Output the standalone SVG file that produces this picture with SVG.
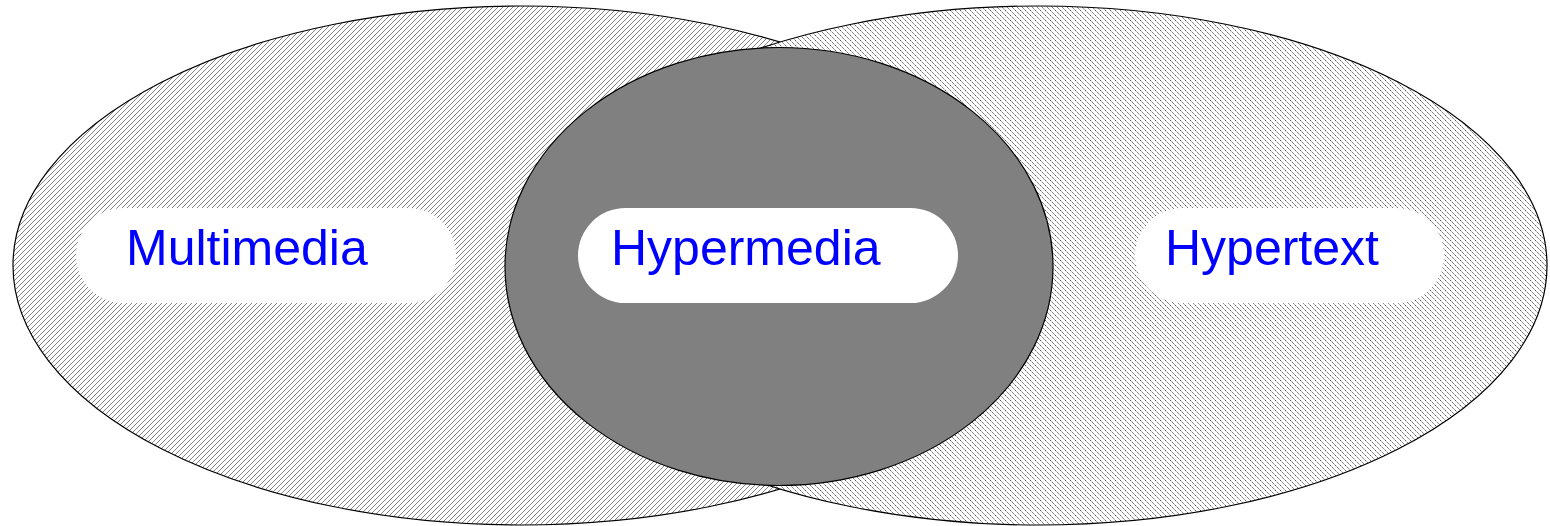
<svg xmlns="http://www.w3.org/2000/svg" width="1550" height="526" viewBox="0 0 1550 526">
<style>
.lbl{font-family:"Liberation Sans",Arial,sans-serif;font-size:50px;fill:#0000ff}
.box{fill:#ffffff;stroke:none}
.edge{stroke:#000;stroke-width:1.2}
</style>
<defs>
<pattern id="hatchL" patternUnits="userSpaceOnUse" width="5" height="5">
<rect width="5" height="5" fill="#fff"/>
<path d="M0,5 L5,0 M-1,1 L1,-1 M4,6 L6,4" stroke="#666" stroke-width="0.8"/>
</pattern>
<pattern id="hatchR" patternUnits="userSpaceOnUse" width="5" height="5">
<rect width="5" height="5" fill="#fff"/>
<path d="M0,0 L5,5 M4,-1 L6,1 M-1,4 L1,6" stroke="#555" stroke-width="1" stroke-dasharray="2,1.2"/>
</pattern>
</defs>
<g id="multimedia">
<ellipse class="edge" cx="521.5" cy="265.5" rx="508.5" ry="259.5" fill="url(#hatchL)"/>
</g>
<g id="hypertext">
<ellipse class="edge" cx="1038.5" cy="265.5" rx="508.5" ry="259.5" fill="url(#hatchR)"/>
</g>
<g id="hypermedia">
<ellipse class="edge" cx="779" cy="266.5" rx="274" ry="219" fill="#808080"/>
</g>
<g id="multimedia-label">
<rect class="box" x="76" y="208" width="380" height="95" rx="47.5"/>
<text class="lbl" x="126" y="265">Multimedia</text>
</g>
<g id="hypermedia-label">
<rect class="box" x="578" y="208" width="380" height="95" rx="47.5"/>
<text class="lbl" x="611" y="265">Hypermedia</text>
</g>
<g id="hypertext-label">
<rect class="box" x="1135" y="208" width="309" height="95" rx="47.5"/>
<text class="lbl" x="1165" y="265">Hypertext</text>
</g>
<g id="connectors"/>
</svg>
